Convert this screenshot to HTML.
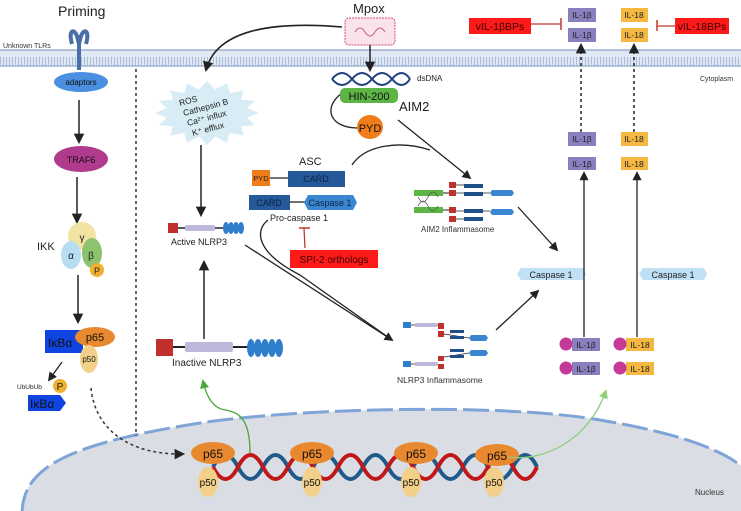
<!DOCTYPE html>
<html><head><meta charset="utf-8"><style>
html,body{margin:0;padding:0;background:#fff}
svg{display:block}
text{font-family:"Liberation Sans",sans-serif}
</style></head><body>
<svg width="741" height="511" viewBox="0 0 741 511" xmlns="http://www.w3.org/2000/svg">
<defs>
<pattern id="mem" width="3" height="18" patternUnits="userSpaceOnUse">
<rect width="3" height="18" fill="#dfe8f3"/><rect x="0" y="3" width="1" height="12" fill="#a9bcd8"/>
</pattern>
<marker id="ar" viewBox="0 0 10 10" refX="8" refY="5" markerWidth="7" markerHeight="7" orient="auto-start-reverse"><path d="M0,0 L10,5 L0,10 z" fill="#222"/></marker>
<marker id="ag" viewBox="0 0 10 10" refX="8" refY="5" markerWidth="7" markerHeight="7" orient="auto"><path d="M0,0 L10,5 L0,10 z" fill="#4aa83a"/></marker>
<marker id="alg" viewBox="0 0 10 10" refX="8" refY="5" markerWidth="7" markerHeight="7" orient="auto"><path d="M0,0 L10,5 L0,10 z" fill="#8fcf7a"/></marker>
</defs>

<!-- nucleus -->
<path d="M22,515 C22,470 60,445 200,423 C300,408 500,403 600,420 C690,435 735,455 750,475 L750,515 Z" fill="#dadde3" stroke="#7ea4d8" stroke-width="3" stroke-dasharray="26,6"/>
<text x="695" y="495" font-size="8" fill="#333">Nucleus</text>

<!-- membrane -->
<rect x="0" y="50" width="741" height="16" fill="url(#mem)"/>
<line x1="0" y1="50" x2="741" y2="50" stroke="#9db3d3" stroke-width="1.5"/>
<line x1="0" y1="66" x2="741" y2="66" stroke="#9db3d3" stroke-width="1.5"/>
<text x="700" y="81" font-size="7" fill="#333">Cytoplasm</text>

<!-- dashed divider -->
<line x1="136" y1="69" x2="136" y2="436" stroke="#333" stroke-width="1.5" stroke-dasharray="3,3"/>

<!-- Priming -->
<text x="58" y="16" font-size="14" fill="#222">Priming</text>
<text x="3" y="48" font-size="7" fill="#333">Unknown TLRs</text>
<path d="M72,44 C68,30 74,28 77,36 L79,44 M86,44 C90,30 84,28 81,36 L79,44" stroke="#4a6fa8" stroke-width="4" fill="none"/>
<rect x="77" y="42" width="4" height="28" fill="#4a6fa8"/>
<ellipse cx="81" cy="82" rx="27" ry="10" fill="#4a8fe0"/>
<text x="81" y="85" font-size="8" text-anchor="middle" fill="#111">adaptors</text>
<line x1="79" y1="100" x2="79" y2="142" stroke="#222" stroke-width="1.5" marker-end="url(#ar)"/>
<ellipse cx="81" cy="159" rx="27" ry="13" fill="#b03a8c"/>
<text x="81" y="163" font-size="9" text-anchor="middle" fill="#111">TRAF6</text>
<line x1="77" y1="177" x2="77" y2="222" stroke="#222" stroke-width="1.5" marker-end="url(#ar)"/>
<text x="37" y="250" font-size="11" fill="#222">IKK</text>
<circle cx="82" cy="236" r="14" fill="#f2e3a3"/>
<ellipse cx="92" cy="253" rx="10" ry="15" fill="#8dc26f"/>
<ellipse cx="71" cy="255" rx="10" ry="14" fill="#b8dcf2"/>
<circle cx="97" cy="270" r="7" fill="#f0b030"/>
<text x="82" y="241" font-size="10" text-anchor="middle" fill="#222">γ</text>
<text x="71" y="259" font-size="10" text-anchor="middle" fill="#222">α</text>
<text x="91" y="259" font-size="10" text-anchor="middle" fill="#222">β</text>
<text x="97" y="274" font-size="9" text-anchor="middle" fill="#222">P</text>
<line x1="78" y1="275" x2="78" y2="322" stroke="#222" stroke-width="1.5" marker-end="url(#ar)"/>
<rect x="45" y="330" width="38" height="23" fill="#1044e0"/>
<text x="48" y="347" font-size="12" fill="#111">IκBα</text>
<ellipse cx="95" cy="337" rx="20" ry="10" fill="#e8892f"/>
<text x="95" y="341" font-size="11" text-anchor="middle" fill="#111">p65</text>
<ellipse cx="89" cy="359" rx="9" ry="14" fill="#f2d08a"/>
<text x="89" y="362" font-size="8" text-anchor="middle" fill="#111">p50</text>
<line x1="62" y1="362" x2="49" y2="380" stroke="#222" stroke-width="1.3" marker-end="url(#ar)"/>
<text x="17" y="389" font-size="6.5" fill="#222">UbUbUb</text>
<circle cx="60" cy="386" r="7" fill="#f0b030"/>
<text x="60" y="390" font-size="10" text-anchor="middle" fill="#222">P</text>
<polygon points="28,395 60,395 66,403 60,411 28,411" fill="#1044e0"/>
<text x="30" y="408" font-size="12" fill="#111">IκBα</text>
<path d="M91,388 C95,430 130,455 183,454" stroke="#333" stroke-width="1.5" fill="none" stroke-dasharray="3,3" marker-end="url(#ar)"/>

<!-- Mpox -->
<text x="353" y="13" font-size="13" fill="#222">Mpox</text>
<rect x="345" y="18" width="50" height="27" rx="4" fill="#fbe3ea" stroke="#d04a7a" stroke-width="1" stroke-dasharray="2,1"/>
<path d="M355,32 q5,-8 10,0 q5,8 10,0 q5,-8 10,0" stroke="#c0608a" fill="none" stroke-width="1"/>
<path d="M342,27 C260,20 215,35 206,70" stroke="#222" stroke-width="1.5" fill="none" marker-end="url(#ar)"/>
<line x1="370" y1="45" x2="370" y2="70" stroke="#222" stroke-width="1.5" marker-end="url(#ar)"/>
<path d="M332,79 q10,-12 20,0 t20,0 t20,0 t18,0" stroke="#1f3f80" stroke-width="2" fill="none"/>
<path d="M332,79 q10,12 20,0 t20,0 t20,0 t18,0" stroke="#1f3f80" stroke-width="2" fill="none"/>
<text x="417" y="81" font-size="8" fill="#222">dsDNA</text>
<path d="M342,93 C322,108 330,128 358,128" stroke="#222" stroke-width="1.3" fill="none"/>
<rect x="340" y="88" width="58" height="15" rx="5" fill="#5cb545"/>
<text x="369" y="100" font-size="11" text-anchor="middle" fill="#111">HIN-200</text>
<text x="399" y="111" font-size="13" fill="#222">AIM2</text>
<ellipse cx="370" cy="127" rx="13" ry="12" fill="#f07d1a"/>
<text x="370" y="132" font-size="11" text-anchor="middle" fill="#111">PYD</text>
<line x1="398" y1="120" x2="470" y2="178" stroke="#222" stroke-width="1.3" marker-end="url(#ar)"/>

<!-- starburst -->
<polygon points="259,113 247.2,117.7 255,125.3 241,126.3 243.8,135.6 229.8,132.9 226.9,142.6 215,136.5 207,145 199,136.5 187.1,142.6 184.2,132.9 170.2,135.6 173,126.3 159,125.3 166.8,117.7 155,113 166.8,108.3 159,100.7 173,99.7 170.2,90.4 184.2,93.1 187.1,83.4 199,89.5 207,81 215,89.5 226.9,83.4 229.8,93.1 243.8,90.4 241,99.7 255,100.7 247.2,108.3" fill="#d7ecf4"/>
<g font-size="8.5" fill="#222">
<text x="180" y="106" transform="rotate(-15 180 106)">ROS</text>
<text x="184" y="116" transform="rotate(-15 184 116)">Cathepsin B</text>
<text x="188" y="126" transform="rotate(-15 188 126)">Ca²⁺ influx</text>
<text x="193" y="136" transform="rotate(-15 193 136)">K⁺ efflux</text>
</g>
<line x1="201" y1="145" x2="201" y2="215" stroke="#222" stroke-width="1.5" marker-end="url(#ar)"/>

<!-- Active NLRP3 -->
<line x1="176" y1="228" x2="224" y2="228" stroke="#222" stroke-width="1.5"/>
<rect x="168" y="223" width="10" height="10" fill="#c0302c"/>
<rect x="185" y="225" width="30" height="6" rx="2" fill="#c0b8dc"/>
<g fill="#2f7fcc"><ellipse cx="226" cy="228" rx="3" ry="6"/><ellipse cx="231" cy="228" rx="3" ry="6"/><ellipse cx="236" cy="228" rx="3" ry="6"/><ellipse cx="241" cy="228" rx="3" ry="6"/></g>
<text x="171" y="245" font-size="9" fill="#222">Active NLRP3</text>

<!-- ASC -->
<text x="299" y="165" font-size="11" fill="#222">ASC</text>
<line x1="270" y1="178" x2="288" y2="178" stroke="#222" stroke-width="1.3"/>
<rect x="252" y="170" width="18" height="16" fill="#f07d1a"/>
<text x="261" y="181" font-size="7.5" text-anchor="middle" fill="#222">PYD</text>
<rect x="288" y="171" width="57" height="16" fill="#25599a"/>
<text x="316" y="182" font-size="9" text-anchor="middle" fill="#0d2240">CARD</text>
<path d="M352,165 C365,145 400,140 430,150" stroke="#222" stroke-width="1.3" fill="none"/>
<line x1="290" y1="202" x2="305" y2="202" stroke="#222" stroke-width="1.3"/>
<rect x="249" y="195" width="41" height="15" fill="#25599a"/>
<text x="269" y="206" font-size="9" text-anchor="middle" fill="#0d2240">CARD</text>
<polygon points="308,195 353,195 357,202.5 353,210 308,210 304,202.5" fill="#3a86d0"/>
<text x="330" y="206" font-size="9" text-anchor="middle" fill="#0d2240">Caspase 1</text>
<text x="270" y="221" font-size="9" fill="#222">Pro-caspase 1</text>
<line x1="304" y1="228" x2="305" y2="248" stroke="#c0392b" stroke-width="1.3"/>
<line x1="299" y1="228" x2="310" y2="228" stroke="#c0392b" stroke-width="1.5"/>
<rect x="290" y="250" width="88" height="18" fill="#ff1a1a"/>
<text x="334" y="263" font-size="10" text-anchor="middle" fill="#3a0000">SPI-2 orthologs</text>
<path d="M268,220 C255,230 255,252 300,275 L392,340" stroke="#222" stroke-width="1.3" fill="none"/>
<line x1="245" y1="245" x2="392" y2="340" stroke="#222" stroke-width="1.3" marker-end="url(#ar)"/>

<!-- Inactive NLRP3 -->
<line x1="204" y1="339" x2="204" y2="262" stroke="#222" stroke-width="1.5" marker-end="url(#ar)"/>
<line x1="172" y1="347" x2="250" y2="347" stroke="#222" stroke-width="2"/>
<rect x="156" y="339" width="17" height="17" fill="#c0302c"/>
<rect x="185" y="342" width="48" height="10" rx="2" fill="#c0b8dc"/>
<g fill="#2f7fcc"><ellipse cx="251" cy="348" rx="4" ry="9"/><ellipse cx="258" cy="348" rx="4" ry="9"/><ellipse cx="265" cy="348" rx="4" ry="9"/><ellipse cx="272" cy="348" rx="4" ry="9"/><ellipse cx="279" cy="348" rx="4" ry="9"/></g>
<text x="172" y="366" font-size="10" fill="#222">Inactive NLRP3</text>
<path d="M250,453 C250,420 240,412 225,410 C212,408 206,395 203,381" stroke="#4aa83a" stroke-width="1.3" fill="none" marker-end="url(#ag)"/>

<!-- AIM2 inflammasome -->
<g>
<rect x="414" y="190" width="29" height="6" fill="#5cb545"/><rect x="414" y="207" width="29" height="6" fill="#5cb545"/>
<path d="M418,197 q5,10 10,0 t10,0 M418,206 q5,-10 10,0 t10,0" stroke="#555" fill="none" stroke-width="0.8"/>
<line x1="443" y1="193" x2="449" y2="193" stroke="#222"/><line x1="443" y1="210" x2="449" y2="210" stroke="#222"/>
<g fill="#c0302c"><rect x="449" y="182" width="7" height="6"/><rect x="449" y="190" width="7" height="6"/><rect x="449" y="207" width="7" height="6"/><rect x="449" y="216" width="7" height="6"/></g>
<g stroke="#222" stroke-width="0.8"><line x1="456" y1="185" x2="464" y2="185"/><line x1="456" y1="193" x2="490" y2="193"/><line x1="456" y1="211" x2="490" y2="211"/><line x1="456" y1="219" x2="464" y2="219"/></g>
<g fill="#1f4e89"><rect x="464" y="184" width="19" height="4"/><rect x="464" y="192" width="19" height="4"/><rect x="464" y="209" width="19" height="4"/><rect x="464" y="217" width="19" height="4"/></g>
<g fill="#3a86d0"><polygon points="492,190 512,190 514,193 512,196 492,196 490,193"/><polygon points="492,209 512,209 514,212 512,215 492,215 490,212"/></g>
<text x="421" y="232" font-size="8" fill="#333">AIM2 Inflammasome</text>
</g>
<line x1="518" y1="207" x2="557" y2="250" stroke="#222" stroke-width="1.3" marker-end="url(#ar)"/>

<!-- NLRP3 inflammasome -->
<g>
<g fill="#2f7fcc"><rect x="403" y="322" width="8" height="6"/><rect x="403" y="361" width="8" height="6"/></g>
<g stroke="#222" stroke-width="0.8"><line x1="411" y1="325" x2="438" y2="325"/><line x1="411" y1="364" x2="438" y2="364"/><line x1="444" y1="334" x2="469" y2="338"/><line x1="444" y1="357" x2="469" y2="353"/></g>
<rect x="415" y="323" width="22" height="4" fill="#c0b8dc"/><rect x="415" y="362" width="22" height="4" fill="#c0b8dc"/>
<g fill="#c0302c"><rect x="438" y="323" width="6" height="6"/><rect x="438" y="331" width="6" height="6"/><rect x="438" y="356" width="6" height="5"/><rect x="438" y="364" width="6" height="5"/></g>
<g fill="#1f4e89"><rect x="450" y="330" width="14" height="3"/><rect x="450" y="336" width="14" height="3"/><rect x="450" y="349" width="14" height="3"/><rect x="450" y="355" width="14" height="3"/></g>
<g fill="#3a86d0"><polygon points="471,335 486,335 488,338 486,341 471,341 469,338"/><polygon points="471,350 486,350 488,353 486,356 471,356 469,353"/></g>
<text x="397" y="383" font-size="8.5" fill="#333">NLRP3 Inflammasome</text>
</g>
<line x1="496" y1="330" x2="538" y2="291" stroke="#222" stroke-width="1.3" marker-end="url(#ar)"/>

<!-- Caspase 1 -->
<polygon points="521,268 583,268 586,274 583,280 521,280 517,274" fill="#bfe0f5"/>
<text x="551" y="278" font-size="9" text-anchor="middle" fill="#222">Caspase 1</text>
<polygon points="643,268 704,268 707,274 704,280 643,280 639,274" fill="#bfe0f5"/>
<text x="673" y="278" font-size="9" text-anchor="middle" fill="#222">Caspase 1</text>

<line x1="584" y1="337" x2="584" y2="173" stroke="#222" stroke-width="1.3" marker-end="url(#ar)"/>
<line x1="637" y1="337" x2="637" y2="173" stroke="#222" stroke-width="1.3" marker-end="url(#ar)"/>
<line x1="581" y1="132" x2="581" y2="45" stroke="#222" stroke-width="1.5" stroke-dasharray="3,3" marker-end="url(#ar)"/>
<line x1="634" y1="132" x2="634" y2="45" stroke="#222" stroke-width="1.5" stroke-dasharray="3,3" marker-end="url(#ar)"/>

<g font-size="8.5" fill="#222" text-anchor="middle">
<rect x="568" y="8" width="28" height="14" fill="#8a80c0"/><text x="582" y="18">IL-1β</text>
<rect x="568" y="28" width="28" height="14" fill="#8a80c0"/><text x="582" y="38">IL-1β</text>
<rect x="621" y="8" width="27" height="14" fill="#f5b942"/><text x="634" y="18">IL-18</text>
<rect x="621" y="28" width="27" height="14" fill="#f5b942"/><text x="634" y="38">IL-18</text>
<rect x="568" y="132" width="28" height="14" fill="#8a80c0"/><text x="582" y="142">IL-1β</text>
<rect x="621" y="132" width="27" height="14" fill="#f5b942"/><text x="634" y="142">IL-18</text>
<rect x="568" y="157" width="28" height="13" fill="#8a80c0"/><text x="582" y="167">IL-1β</text>
<rect x="621" y="157" width="27" height="13" fill="#f5b942"/><text x="634" y="167">IL-18</text>
<rect x="572" y="338" width="28" height="13" fill="#8a80c0"/><text x="586" y="348">IL-1β</text>
<rect x="572" y="362" width="28" height="13" fill="#8a80c0"/><text x="586" y="372">IL-1β</text>
<rect x="626" y="338" width="28" height="13" fill="#f5b942"/><text x="640" y="348">IL-18</text>
<rect x="626" y="362" width="28" height="13" fill="#f5b942"/><text x="640" y="372">IL-18</text>
</g>
<g fill="#c43a96"><circle cx="566" cy="344" r="6.5"/><circle cx="566" cy="368" r="6.5"/><circle cx="620" cy="344" r="6.5"/><circle cx="620" cy="368" r="6.5"/></g>

<rect x="469" y="18" width="62" height="16" fill="#ff1a1a"/>
<text x="500" y="30" font-size="10.5" text-anchor="middle" fill="#3a0000">vIL-1βBPs</text>
<line x1="531" y1="24" x2="561" y2="24" stroke="#c0392b" stroke-width="1.3"/>
<line x1="561" y1="18" x2="561" y2="30" stroke="#c0392b" stroke-width="1.5"/>
<rect x="675" y="18" width="54" height="16" fill="#ff1a1a"/>
<text x="702" y="30" font-size="10.5" text-anchor="middle" fill="#3a0000">vIL-18BPs</text>
<line x1="657" y1="26" x2="675" y2="26" stroke="#c0392b" stroke-width="1.3"/>
<line x1="657" y1="20" x2="657" y2="31" stroke="#c0392b" stroke-width="1.5"/>

<!-- DNA -->
<path d="M213,467 q12.5,-24 25,0 t25,0 t25,0 t25,0 t25,0 t25,0 t25,0 t25,0 t25,0 t25,0 t25,0 t25,0 t24,0" stroke="#1f5a8a" stroke-width="4" fill="none"/>
<path d="M213,467 q12.5,24 25,0 t25,0 t25,0 t25,0 t25,0 t25,0 t25,0 t25,0 t25,0 t25,0 t25,0 t25,0 t24,0" stroke="#c01818" stroke-width="4" fill="none"/>
<g font-size="12" fill="#111" text-anchor="middle">
<ellipse cx="208" cy="482" rx="10" ry="15" fill="#f2d08a"/><text x="208" y="486" font-size="10">p50</text>
<ellipse cx="312" cy="482" rx="10" ry="15" fill="#f2d08a"/><text x="312" y="486" font-size="10">p50</text>
<ellipse cx="411" cy="482" rx="10" ry="15" fill="#f2d08a"/><text x="411" y="486" font-size="10">p50</text>
<ellipse cx="494" cy="482" rx="10" ry="15" fill="#f2d08a"/><text x="494" y="486" font-size="10">p50</text>
<ellipse cx="213" cy="453" rx="22" ry="11" fill="#e8892f"/><text x="213" y="458">p65</text>
<ellipse cx="312" cy="453" rx="22" ry="11" fill="#e8892f"/><text x="312" y="458">p65</text>
<ellipse cx="416" cy="453" rx="22" ry="11" fill="#e8892f"/><text x="416" y="458">p65</text>
<ellipse cx="497" cy="455" rx="22" ry="11" fill="#e8892f"/><text x="497" y="460">p65</text>
</g>
<path d="M508,457 C545,462 588,440 606,391" stroke="#8fcf7a" stroke-width="1.3" fill="none" marker-end="url(#alg)"/>
</svg>
</body></html>
